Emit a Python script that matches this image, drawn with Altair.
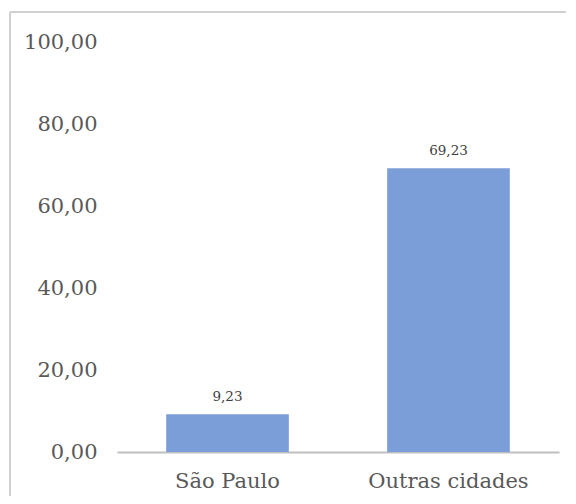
import altair as alt
import pandas as pd

categories = ["São Paulo", "Outras cidades"]
values = [9.23, 69.23]
y_ticks = [0, 20, 40, 60, 80, 100]

df = pd.DataFrame({"cidade": categories, "valor": values})
df["rotulo"] = [f"{v:.2f}".replace(".", ",") for v in values]

W, H = 442, 410
FONT = "DejaVu Serif"
GRAY = "#595959"

x_enc = alt.X("cidade:N", sort=categories,
              scale=alt.Scale(paddingInner=0.445, paddingOuter=0.2225),
              axis=alt.Axis(title=None, labelAngle=0, labelFont=FONT, labelFontSize=21,
                            labelColor=GRAY, ticks=False, tickSize=0, labelPadding=18,
                            labelLimit=400, domainColor="#bfbfbf", domainWidth=2))
y_enc = alt.Y("valor:Q",
              scale=alt.Scale(domain=[0, 100], nice=False),
              axis=alt.Axis(title=None, values=y_ticks, grid=False, domain=False,
                            ticks=False, tickSize=0, labelPadding=20,
                            labelFont=FONT, labelFontSize=21, labelColor=GRAY,
                            labelExpr="replace(format(datum.value, '.2f'), '.', ',')"))

base = alt.Chart(df)
bars = base.mark_bar(color="#7C9ED8").encode(x=x_enc, y=y_enc)
labels = base.mark_text(font=FONT, fontSize=13.5, color="#404040", baseline="bottom", dy=-10).encode(
    x=alt.X("cidade:N", sort=categories), y="valor:Q", text="rotulo:N")

border_left = alt.Chart(df).mark_rule(color="#d0d0d0", strokeWidth=2).encode(
    x=alt.value(-107), y=alt.value(-30), y2=alt.value(H + 44))
border_top = alt.Chart(df).mark_rule(color="#d0d0d0", strokeWidth=2).encode(
    x=alt.value(-107), x2=alt.value(W + 7), y=alt.value(-30))

chart = alt.layer(border_left, border_top, bars, labels).properties(
    width=W, height=H, padding={"left": 1, "top": 3, "right": 0, "bottom": 0}
).configure_view(stroke=None)

chart.save("out.html", embed_options={"renderer": "svg", "actions": False})
